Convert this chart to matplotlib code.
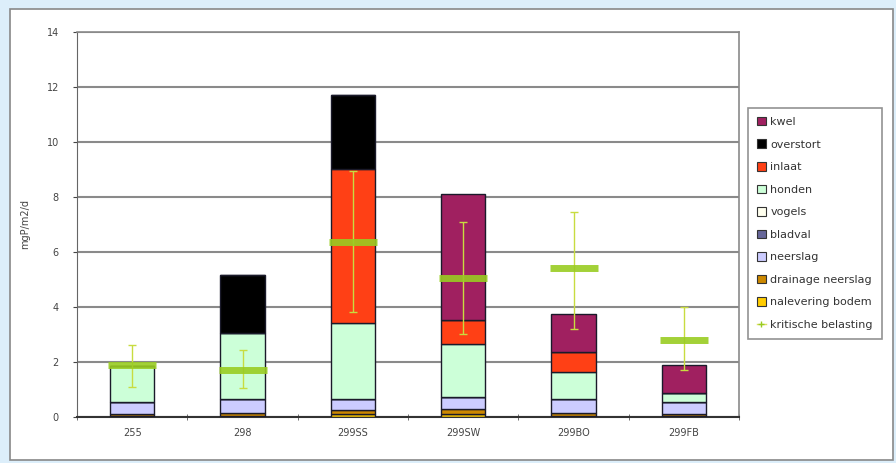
import numpy as np
import matplotlib.pyplot as plt
from matplotlib.patches import Patch, Rectangle
from matplotlib.lines import Line2D

categories = ['255', '298', '299SS', '299SW', '299BO', '299FB']

# stacked components, bottom to top
nalevering_bodem = [0.05, 0.05, 0.12, 0.10, 0.05, 0.05]
drainage_neerslag = [0.05, 0.10, 0.13, 0.20, 0.10, 0.05]
neerslag = [0.45, 0.50, 0.39, 0.44, 0.49, 0.46]
bladval = [0.0, 0.0, 0.0, 0.0, 0.0, 0.0]
vogels = [0.0, 0.0, 0.0, 0.0, 0.0, 0.0]
honden = [1.30, 2.40, 2.76, 1.91, 0.98, 0.30]
inlaat = [0.0, 0.0, 5.60, 0.87, 0.75, 0.0]
overstort = [0.0, 2.10, 2.70, 0.0, 0.0, 0.0]
kwel = [0.0, 0.0, 0.0, 4.58, 1.37, 1.03]

# kritische belasting with range
krit = [1.90, 1.72, 6.35, 5.05, 5.40, 2.80]
krit_low = [1.10, 1.05, 3.83, 3.00, 3.20, 1.70]
krit_high = [2.60, 2.45, 8.95, 7.10, 7.46, 4.00]

series = [
    ('nalevering bodem', nalevering_bodem, '#FFCC00'),
    ('drainage neerslag', drainage_neerslag, '#CC8800'),
    ('neerslag', neerslag, '#CCCCFF'),
    ('bladval', bladval, '#666699'),
    ('vogels', vogels, '#FFFFEE'),
    ('honden', honden, '#CCFFD8'),
    ('inlaat', inlaat, '#FF4015'),
    ('overstort', overstort, '#000000'),
    ('kwel', kwel, '#A02060'),
]

fig = plt.figure(figsize=(8.96, 4.63), dpi=100)
fig.patch.set_facecolor('#DCEEFA')

# white chart panel behind everything
panel = Rectangle((10 / 896, 3 / 463), 883 / 896, 451 / 463,
                  transform=fig.transFigure, facecolor='white',
                  edgecolor='#888888', linewidth=1.2, zorder=-10)
fig.add_artist(panel)

ax = fig.add_axes([77 / 896, 1 - 417 / 463, (739 - 77) / 896, (417 - 31.7) / 463])
ax.set_zorder(1)
ax.set_facecolor('white')

x = np.arange(len(categories))
bottom = np.zeros(len(categories))
for name, vals, col in series:
    vals = np.array(vals)
    ax.bar(x, vals, width=0.4, bottom=bottom, color=col, edgecolor='#1a1a2a',
           linewidth=1.0, zorder=3)
    bottom += vals

# kritische belasting
krit = np.array(krit)
yerr = np.vstack([krit - np.array(krit_low), np.array(krit_high) - krit])
ax.errorbar(x, krit, yerr=yerr, fmt='none', ecolor='#C8DC40', elinewidth=1.0,
            capsize=3, capthick=1.0, zorder=4)
ax.plot(x, krit, linestyle='none', marker='_', markersize=35, markeredgewidth=5,
        color='#99CC22', alpha=0.9, zorder=5)

ax.set_xlim(-0.5, len(categories) - 0.5)
ax.set_ylim(0, 14)
ax.set_yticks(np.arange(0, 15, 2))
ax.set_xticks(x)
ax.set_xticklabels(categories)
ax.set_xticks(np.arange(-0.5, len(categories), 1), minor=True)
ax.tick_params(axis='x', which='major', length=0, labelsize=7, colors='#444444', pad=8)
ax.tick_params(axis='x', which='minor', length=4, color='#555555', direction='inout')
ax.tick_params(axis='y', length=3, labelsize=7, colors='#444444', direction='out', pad=10)
ax.yaxis.grid(True, color='#8a8a8a', linewidth=1.5, zorder=1)
ax.set_axisbelow(True)
for s in ['top', 'right']:
    ax.spines[s].set_color('#8a8a8a')
    ax.spines[s].set_linewidth(1.2)
ax.spines['left'].set_color('#666666')
ax.spines['bottom'].set_color('#333333')
ax.spines['bottom'].set_linewidth(1.5)
ax.set_ylabel('mgP/m2/d', fontsize=7, color='#444444', labelpad=12)

# legend, top to bottom as in the reference
handles = []
for name, vals, col in reversed(series):
    handles.append(Patch(facecolor=col, edgecolor='#333333', linewidth=0.8, label=name))
handles.append(Line2D([], [], color='#DDE060', marker='+', markersize=5,
                      markeredgecolor='#99CC22', linewidth=1.0, label='kritische belasting'))
leg = fig.legend(handles=handles, loc='upper left',
                 bbox_to_anchor=(748 / 896, 1 - 108 / 463), fontsize=8,
                 frameon=True, fancybox=False, edgecolor='#777777',
                 handlelength=0.8, handleheight=0.8, handletextpad=0.4,
                 labelspacing=1.12, borderpad=0.8, borderaxespad=0)
leg.get_frame().set_linewidth(1.2)
for t in leg.get_texts():
    t.set_color('#333333')

fig.savefig('out.png', dpi=100, facecolor=fig.get_facecolor())
